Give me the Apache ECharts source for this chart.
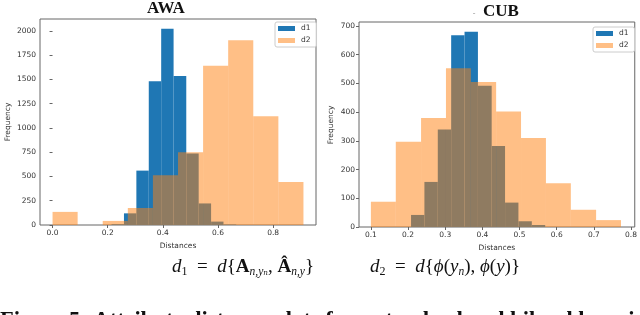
<!DOCTYPE html>
<html>
<head>
<meta charset="utf-8">
<script src="https://cdn.jsdelivr.net/npm/echarts@6/dist/echarts.min.js"></script>
<style>
html,body{margin:0;padding:0;background:#fff;}
#c{width:640px;height:315px;}
</style>
</head>
<body>
<div id="c"></div>
<script>
// ---- Data ----
// AWA histograms
const awaD1Edges = [0.214, 0.259, 0.304, 0.349, 0.394, 0.439, 0.485, 0.530, 0.575, 0.620, 0.666];
const awaD1Counts = [8, 120, 560, 1480, 2020, 1535, 737, 222, 35, 5];
const awaD2Edges = [0.0, 0.091, 0.182, 0.273, 0.364, 0.455, 0.546, 0.637, 0.728, 0.819, 0.910];
const awaD2Counts = [135, 0, 42, 175, 512, 748, 1640, 1902, 1120, 444];
// CUB histograms
const cubD1Edges = [0.208, 0.244, 0.280, 0.316, 0.352, 0.388, 0.425, 0.461, 0.497, 0.533, 0.569];
const cubD1Counts = [42, 157, 340, 668, 680, 492, 282, 85, 20, 7];
const cubD2Edges = [0.100, 0.167, 0.235, 0.302, 0.369, 0.437, 0.504, 0.571, 0.638, 0.706, 0.773];
const cubD2Counts = [88, 297, 380, 553, 505, 402, 310, 152, 60, 24];
// Tick labels
const awaXTicks = [0.0, 0.2, 0.4, 0.6, 0.8];
const awaYTicks = [0, 250, 500, 750, 1000, 1250, 1500, 1750, 2000];
const cubXTicks = [0.1, 0.2, 0.3, 0.4, 0.5, 0.6, 0.7, 0.8];
const cubYTicks = [0, 100, 200, 300, 400, 500, 600, 700];
const seriesNames = ['d1', 'd2'];
const titles = ['AWA', 'CUB'];
const axisTitleX = 'Distances';
const axisTitleY = 'Frequency';

// ---- Build ----
function bins(edges, counts) {
  return counts.map((c, i) => [edges[i], edges[i + 1], c]);
}
const C1 = '#1f77b4', C2 = '#ff7f0e';
const FONT = '"DejaVu Sans", sans-serif';
const tickColor = '#333';
const spine = '#666';

function histSeries(name, data, idx, color, opacity) {
  return {
    type: 'custom', name: name, xAxisIndex: idx, yAxisIndex: idx,
    itemStyle: { color: color, opacity: opacity },
    encode: { x: [0, 1], y: 2 },
    clip: true,
    data: data,
    renderItem: function (params, api) {
      const a = api.coord([api.value(0), api.value(2)]);
      const b = api.coord([api.value(1), 0]);
      return {
        type: 'rect',
        shape: { x: a[0], y: a[1], width: b[0] - a[0], height: b[1] - a[1] },
        style: { fill: color, opacity: opacity }
      };
    }
  };
}

function xAxis(idx, min, max, ticks) {
  return {
    type: 'value', gridIndex: idx, min: min, max: max,
    axisLine: { show: false },
    splitLine: { show: false },
    axisTick: { show: true, length: 3, lineStyle: { color: spine }, customValues: ticks },
    axisLabel: { color: tickColor, fontSize: 7.5, fontFamily: FONT, margin: 4,
      customValues: ticks, formatter: v => v.toFixed(1) },
    name: axisTitleX, nameLocation: 'middle', nameGap: 15,
    nameTextStyle: { color: tickColor, fontSize: 7.5, fontFamily: FONT }
  };
}
function yAxis(idx, max, ticks) {
  return {
    type: 'value', gridIndex: idx, min: 0, max: max,
    axisLine: { show: false },
    splitLine: { show: false },
    axisTick: { show: true, length: 3, lineStyle: { color: spine }, customValues: ticks },
    axisLabel: { color: tickColor, fontSize: 7.5, fontFamily: FONT, margin: 4,
      customValues: ticks, formatter: v => String(v) }
  };
}
function legend(left, top) {
  return {
    orient: 'vertical', left: left, top: top, width: 40,
    data: seriesNames.map(n => ({ name: n, icon: 'rect' })),
    itemWidth: 17, itemHeight: 5, itemGap: 3,
    padding: [2, 6, 2, 3],
    borderColor: '#ccc', borderWidth: 1, borderRadius: 2,
    backgroundColor: 'rgba(255,255,255,0.8)',
    selectedMode: false,
    textStyle: { color: tickColor, fontSize: 7.5, fontFamily: FONT, lineHeight: 9, padding: [0, 0, 0, 1] }
  };
}

const SERIF = '"Liberation Serif", "DejaVu Serif", serif';
const mathRich = {
  i: { font: 'italic 19px ' + SERIF, fill: '#111', lineHeight: 22 },
  n: { font: '19px ' + SERIF, fill: '#111', lineHeight: 22 },
  b: { font: 'bold 19px ' + SERIF, fill: '#111', lineHeight: 22 },
  s: { font: '12px ' + SERIF, fill: '#111', lineHeight: 12, verticalAlign: 'bottom' },
  si: { font: 'italic 11.5px ' + SERIF, fill: '#111', lineHeight: 12, verticalAlign: 'bottom' }
};

const option = {
  backgroundColor: '#fff',
  animation: false,
  grid: [
    { left: 40, top: 19, width: 276, height: 206, show: true, borderColor: spine, borderWidth: 1, backgroundColor: 'transparent' },
    { left: 359, top: 22, width: 277, height: 205, show: true, borderColor: spine, borderWidth: 1, backgroundColor: 'transparent' }
  ],
  xAxis: [xAxis(0, -0.0455, 0.9555, awaXTicks), xAxis(1, 0.068, 0.81, cubXTicks)],
  yAxis: [yAxis(0, 2121, awaYTicks), yAxis(1, 714, cubYTicks)],
  legend: [legend(275, 22), legend(593, 27)],
  series: [
    histSeries(seriesNames[0], bins(awaD1Edges, awaD1Counts), 0, C1, 1),
    histSeries(seriesNames[1], bins(awaD2Edges, awaD2Counts), 0, C2, 0.5),
    histSeries(seriesNames[0], bins(cubD1Edges, cubD1Counts), 1, C1, 1),
    histSeries(seriesNames[1], bins(cubD2Edges, cubD2Counts), 1, C2, 0.5)
  ],
  graphic: [
    { type: 'text', x: 166, y: 8.5, style: { text: titles[0], font: 'bold 17px ' + SERIF, fill: '#111', align: 'center', verticalAlign: 'middle' } },
    { type: 'text', x: 501, y: 11.5, style: { text: titles[1], font: 'bold 17px ' + SERIF, fill: '#111', align: 'center', verticalAlign: 'middle' } },
    { type: 'text', x: 474, y: 14, style: { text: '-', font: '8px ' + SERIF, fill: '#999', align: 'center', verticalAlign: 'middle' } },
    { type: 'text', x: 8, y: 122, rotation: Math.PI / 2, style: { text: axisTitleY, font: '7.5px ' + FONT, fill: tickColor, align: 'center', verticalAlign: 'middle' } },
    { type: 'text', x: 331, y: 125, rotation: Math.PI / 2, style: { text: axisTitleY, font: '7.5px ' + FONT, fill: tickColor, align: 'center', verticalAlign: 'middle' } },
    { type: 'text', x: 172, y: 256, style: {
        text: '{i|d}{s|1}{n|\u2002=\u2002}{i|d}{n|{}{b|A}{si|n,yₙ}{n|, }{b|Â}{si|n,y}}',
        font: '19px ' + SERIF, fill: '#111', lineHeight: 22,
        rich: mathRich } },
    { type: 'text', x: 370, y: 256, style: {
        text: '{i|d}{s|2}{n|\u2002=\u2002}{i|d}{n|{}{i|ϕ}{n|(}{i|y}{si|n}{n|), }{i|ϕ}{n|(}{i|y}{n|)}}',
        font: '19px ' + SERIF, fill: '#111', lineHeight: 22,
        rich: mathRich } },
    { type: 'text', x: 0, y: 310, style: { text: 'Figure 5: Attribute distance plots for a standard and bilevel learning of features', font: 'bold 22.5px ' + SERIF, fill: '#111' } }
  ]
};
const chart = echarts.init(document.getElementById('c'), null, { renderer: 'canvas' });
chart.setOption(option);
</script>
</body>
</html>
